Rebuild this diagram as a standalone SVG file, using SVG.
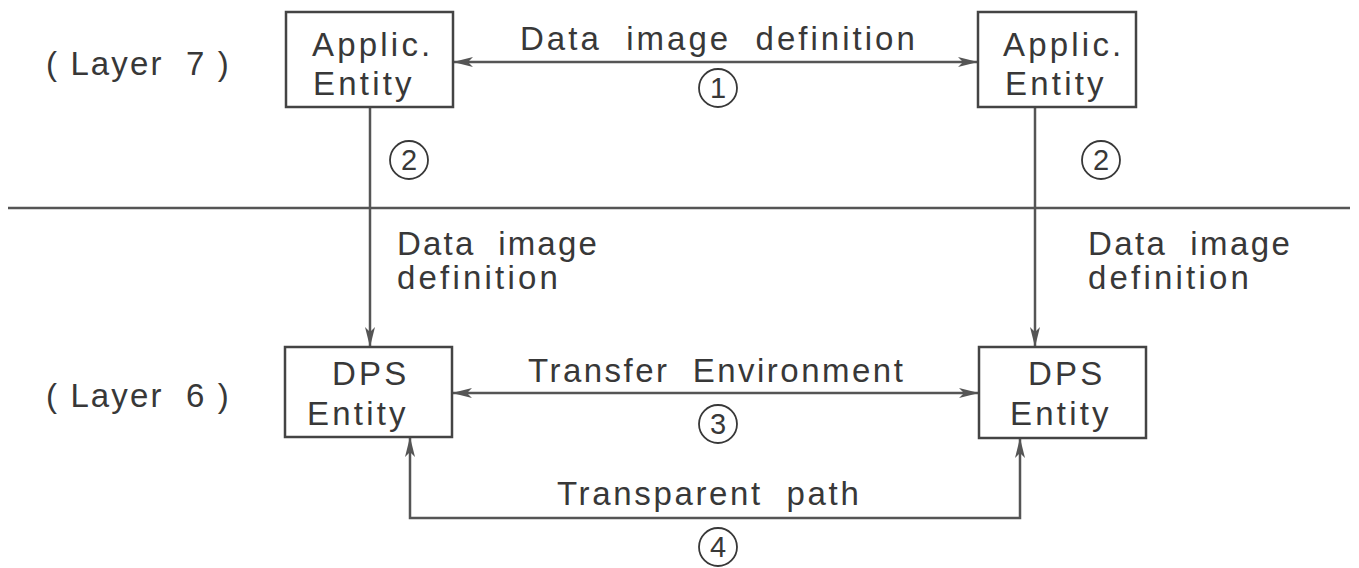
<svg xmlns="http://www.w3.org/2000/svg" width="1359" height="568" viewBox="0 0 1359 568">
  <style>
    text { font-family: "Liberation Sans", "DejaVu Sans", sans-serif; font-size: 33px; fill: #383838; letter-spacing: 3.2px; }
    .c { text-anchor: middle; }
    .box { fill: #fff; stroke: #444; stroke-width: 2.5; }
    .ln { fill: none; stroke: #555; stroke-width: 2.5; }
    .circ { fill: none; stroke: #383838; stroke-width: 1.8; }
    .num { font-size: 29px; letter-spacing: 0; }
  </style>
  <defs>
    <marker id="ah" viewBox="0 0 20 10" refX="20" refY="5" markerWidth="20" markerHeight="10" markerUnits="userSpaceOnUse" orient="auto-start-reverse">
      <path d="M0,0 L20,5 L0,10 L5,5 Z" fill="#555"/>
    </marker>
  </defs>
  <rect width="1359" height="568" fill="#fff"/>

  <!-- layer separator -->
  <line x1="8" y1="208" x2="1350" y2="208" class="ln"/>

  <!-- layer labels -->
  <text x="46" y="75" textLength="186" xml:space="preserve">( Layer  7 )</text>
  <text x="46" y="407" textLength="186" xml:space="preserve">( Layer  6 )</text>

  <g id="connectors">
    <line x1="453" y1="62" x2="978" y2="62" class="ln" marker-start="url(#ah)" marker-end="url(#ah)"/>
    <line x1="370" y1="107" x2="370" y2="347" class="ln" marker-end="url(#ah)"/>
    <line x1="1035" y1="107" x2="1035" y2="347" class="ln" marker-end="url(#ah)"/>
    <line x1="452" y1="393" x2="979" y2="393" class="ln" marker-start="url(#ah)" marker-end="url(#ah)"/>
    <polyline points="410,437 410,518 1020,518 1020,438" class="ln" marker-start="url(#ah)" marker-end="url(#ah)"/>
  </g>

  <g id="applic-left">
    <rect x="286" y="12" width="167" height="95" class="box"/>
    <text x="312" y="56">Applic.</text>
    <text x="313" y="95">Entity</text>
  </g>
  <g id="applic-right">
    <rect x="978" y="12" width="158" height="95" class="box"/>
    <text x="1003" y="56">Applic.</text>
    <text x="1005" y="95">Entity</text>
  </g>
  <g id="dps-left">
    <rect x="285" y="347" width="167" height="90" class="box"/>
    <text x="332" y="385">DPS</text>
    <text x="307" y="425">Entity</text>
  </g>
  <g id="dps-right">
    <rect x="979" y="347" width="167" height="91" class="box"/>
    <text x="1028" y="385">DPS</text>
    <text x="1010" y="425">Entity</text>
  </g>

  <!-- connector labels -->
  <text x="520" y="50" textLength="398" xml:space="preserve">Data  image  definition</text>
  <circle cx="718" cy="88" r="19" class="circ"/>
  <text x="718" y="98" class="c num">1</text>

  <circle cx="409" cy="160" r="19" class="circ"/>
  <text x="409" y="170" class="c num">2</text>
  <circle cx="1101" cy="160" r="19" class="circ"/>
  <text x="1101" y="170" class="c num">2</text>

  <text x="397" y="255" textLength="203" xml:space="preserve">Data  image</text>
  <text x="397" y="289">definition</text>
  <text x="1088" y="255" textLength="205" xml:space="preserve">Data  image</text>
  <text x="1088" y="289">definition</text>

  <text x="528" y="382" textLength="378" xml:space="preserve">Transfer  Environment</text>
  <circle cx="718" cy="424" r="19" class="circ"/>
  <text x="718" y="434" class="c num">3</text>

  <text x="557" y="505" textLength="305" xml:space="preserve">Transparent  path</text>
  <circle cx="718" cy="547" r="19" class="circ"/>
  <text x="718" y="557" class="c num">4</text>
</svg>
